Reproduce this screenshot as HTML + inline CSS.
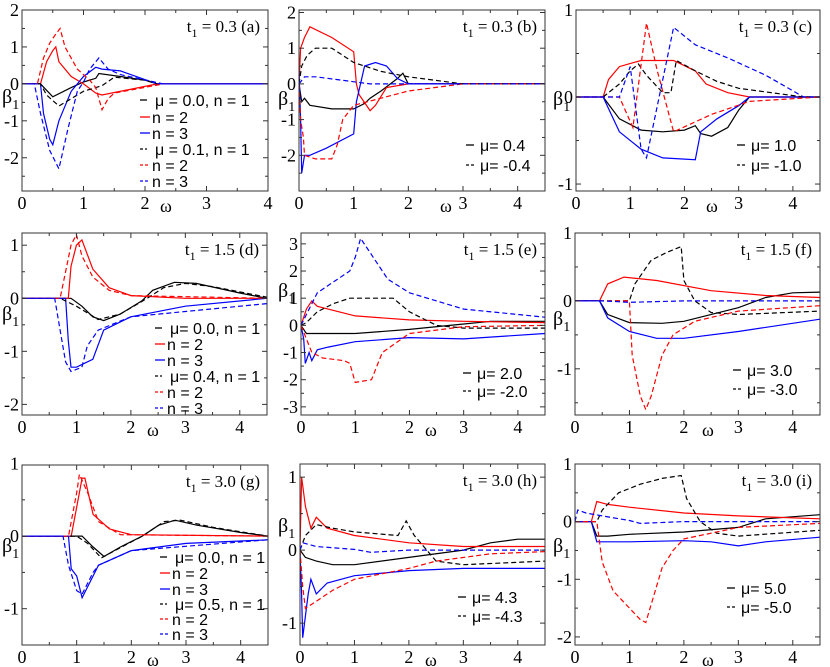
<!DOCTYPE html>
<html><head><meta charset="utf-8">
<style>
body{margin:0;background:#fff;}
svg{display:block;}
.tk{font-family:"Liberation Serif","DejaVu Serif",serif;font-size:18px;fill:#000;}
.lg{font-family:"Liberation Sans","DejaVu Sans",sans-serif;font-size:16px;fill:#000;}
</style></head>
<body>
<svg id="fig" width="830" height="667" xmlns="http://www.w3.org/2000/svg"></svg>
<script>
// ---------- data: each series is [omega, beta1] pairs ----------
const a_k = [[0,0],[0.3,0],[0.5,-0.35],[0.8,-0.1],[1.0,0.05],[1.2,0.15],[1.25,0.28],[1.6,0.2],[2.0,0.1],[2.2,0],[4,0]];
const a_r = [[0,0],[0.3,0],[0.4,0.6],[0.5,0.9],[0.55,1.0],[0.6,0.6],[0.8,0.2],[1.0,0],[1.2,-0.25],[1.3,-0.3],[2.2,0],[4,0]];
const a_b = [[0,0],[0.3,0],[0.35,-0.8],[0.45,-1.5],[0.5,-1.65],[0.6,-1.0],[0.8,-0.2],[1.0,0.2],[1.2,0.45],[1.3,0.4],[1.6,0.35],[2.2,0],[4,0]];
const a_kd = [[0,0],[0.3,0],[0.4,-0.3],[0.6,-0.6],[0.8,-0.4],[1.0,-0.2],[1.3,-0.05],[1.5,0.18],[2.0,0.1],[2.2,0]];
const a_rd = [[0,0],[0.25,0],[0.35,0.7],[0.45,1.1],[0.55,1.35],[0.62,1.5],[0.7,1.0],[0.9,0.4],[1.1,0.1],[1.2,-0.1],[1.3,-0.7],[1.4,-0.4],[1.5,-0.25],[2.3,0]];
const a_bd = [[0,0],[0.2,0],[0.3,-0.8],[0.45,-1.8],[0.6,-2.3],[0.75,-1.2],[0.9,-0.2],[1.0,0.05],[1.1,0.4],[1.25,0.7],[1.4,0.4],[1.6,0.25],[2.3,0]];

const b_r = [[0,0],[0.03,1.0],[0.1,1.3],[0.2,1.6],[0.6,1.3],[1.0,0.9],[1.05,0],[1.1,-0.3],[1.3,-0.75],[1.4,-0.6],[1.6,-0.1],[2.0,0],[4.5,0]];
const b_k = [[0,0],[0.05,-0.5],[0.1,-0.4],[0.2,-0.6],[0.6,-0.7],[1.0,-0.7],[1.2,-0.55],[1.3,-0.4],[1.5,-0.2],[1.8,0.15],[1.9,0.3],[2.0,0],[4.5,0]];
const b_b = [[0,0.4],[0.03,-1.0],[0.05,-2.5],[0.1,-2.0],[0.2,-2.0],[0.5,-1.8],[1.0,-1.4],[1.05,-0.5],[1.2,0.5],[1.4,0.6],[1.6,0.5],[1.8,0.15],[2.0,0],[4.5,0]];
const b_kd = [[0,0],[0.05,0.5],[0.15,0.8],[0.3,1.0],[0.6,1.0],[1.0,0.6],[1.5,0.35],[2.0,0.2],[3.0,0],[4.5,0]];
const b_rd = [[0,0],[0.03,-1.0],[0.08,-1.5],[0.1,-2.0],[0.3,-2.1],[0.6,-2.1],[0.7,-1.7],[0.8,-1.0],[1.0,-0.6],[1.5,-0.4],[2.0,-0.2],[3.0,0],[4.5,0]];
const b_bd = [[0,0],[0.1,0.2],[0.3,0.2],[0.8,0.1],[1.3,0],[2.0,0],[4.5,0]];

const c_r = [[0,0],[0.5,0],[0.6,0.2],[0.8,0.35],[1.2,0.42],[1.8,0.42],[2.2,0.3],[2.4,0.15],[2.8,0.05],[3.2,0],[4.5,0]];
const c_k = [[0,0],[0.5,0],[0.8,-0.25],[1.2,-0.38],[1.6,-0.4],[2.0,-0.38],[2.2,-0.33],[2.3,-0.42],[2.5,-0.45],[2.8,-0.35],[3.0,-0.15],[3.2,0],[4.5,0]];
const c_b = [[0,0],[0.5,0],[0.8,-0.4],[1.2,-0.6],[1.6,-0.7],[2.2,-0.72],[2.3,-0.4],[2.6,-0.25],[3.0,-0.1],[3.2,0],[4.5,0]];
const c_kd = [[0.5,0],[0.8,0.15],[1.0,0.3],[1.15,0.38],[1.3,0.25],[1.6,0.05],[1.75,0.05],[1.85,0.42],[2.2,0.3],[2.6,0.18],[3.0,0.1],[4.2,0],[4.5,0]];
const c_rd = [[0,0],[0.8,0],[1.05,-0.35],[1.3,0.85],[1.5,0.3],[1.8,-0.4],[2.5,-0.2],[3.2,-0.05],[4.5,0]];
const c_bd = [[0,0],[0.8,0],[1.0,0.35],[1.2,-0.6],[1.3,-0.7],[1.8,0.8],[2.2,0.6],[2.8,0.45],[3.5,0.25],[4.2,0],[4.5,0]];

const d_k = [[0,0],[0.9,0],[1.1,-0.15],[1.3,-0.35],[1.5,-0.42],[1.8,-0.3],[2.2,-0.05],[2.4,0.15],[2.8,0.3],[3.2,0.28],[4.0,0.1],[4.5,0]];
const d_r = [[0,0],[0.85,0],[0.9,0.6],[1.0,1.0],[1.1,1.1],[1.3,0.55],[1.6,0.2],[2.0,0.05],[3.0,0],[4.5,0]];
const d_b = [[0,0],[0.8,0],[0.85,-0.8],[0.9,-1.3],[1.0,-1.3],[1.3,-1.15],[1.5,-0.6],[2.0,-0.35],[3.0,-0.15],[4.5,0]];
const d_kd = [[0,0],[0.7,0],[1.0,-0.15],[1.4,-0.4],[1.8,-0.3],[2.3,0],[2.6,0.2],[3.0,0.28],[3.5,0.22],[4.5,0.02]];
const d_rd = [[0,0],[0.7,0],[0.8,0.5],[0.9,1.0],[1.0,1.2],[1.1,0.8],[1.3,0.4],[1.6,0.15],[2.0,0.05],[4.5,0]];
const d_bd = [[0,0],[0.6,0],[0.7,-0.6],[0.8,-1.2],[0.9,-1.38],[1.1,-1.3],[1.2,-0.9],[1.4,-0.6],[2.0,-0.35],[3.0,-0.25],[4.5,-0.1]];

const e_r = [[0,0],[0.1,0.6],[0.2,0.9],[0.3,0.7],[0.5,0.6],[1.0,0.35],[2.0,0.2],[3.0,0.15],[4.5,0.1]];
const e_k = [[0,0],[0.1,-0.3],[0.3,-0.3],[1.0,-0.3],[2.0,-0.15],[3.0,0.05],[3.5,0.15],[4.5,0.15]];
const e_b = [[0,0],[0.05,-0.5],[0.08,-1.4],[0.15,-1.0],[0.2,-1.3],[0.3,-0.9],[0.5,-0.8],[1.0,-0.6],[2.0,-0.45],[3.0,-0.5],[4.5,-0.3]];
const e_kd = [[0,0],[0.1,0.1],[0.3,0.5],[0.6,0.8],[0.9,1.0],[1.7,1.0],[2.0,0.5],[2.5,0],[3.0,-0.1],[4.5,-0.1]];
const e_rd = [[0,0],[0.1,-0.5],[0.2,-1.0],[0.4,-1.2],[0.8,-1.3],[0.9,-1.4],[1.0,-2.1],[1.3,-2.0],[1.5,-1.0],[2.0,-0.3],[3.0,-0.05],[4.5,0]];
const e_bd = [[0,0],[0.1,0.4],[0.3,1.2],[0.6,1.6],[0.9,2.0],[1.0,2.5],[1.1,3.2],[1.3,2.6],[1.6,1.7],[2.0,1.2],[3.0,0.6],[4.5,0.3]];

const f_r = [[0,0],[0.45,0],[0.6,0.25],[0.9,0.35],[1.5,0.3],[2.5,0.15],[3.5,0.08],[4.5,0.05]];
const f_k = [[0,0],[0.45,0],[0.6,-0.2],[1.0,-0.32],[1.6,-0.33],[2.0,-0.3],[3.0,-0.1],[3.5,0.05],[4.0,0.12],[4.5,0.13]];
const f_b = [[0,0],[0.45,0],[0.6,-0.25],[1.0,-0.45],[1.5,-0.55],[2.0,-0.55],[3.0,-0.45],[4.5,-0.27]];
const f_kd = [[0,0],[1.0,0],[1.1,0.25],[1.4,0.6],[1.7,0.72],[1.95,0.8],[2.0,0.3],[2.2,0],[2.5,-0.17],[3.0,-0.2],[4.5,-0.15]];
const f_rd = [[0,0],[1.0,0],[1.05,-0.8],[1.2,-1.4],[1.3,-1.6],[1.4,-1.4],[1.6,-0.8],[1.8,-0.5],[2.2,-0.3],[3.0,-0.15],[4.5,-0.07]];
const f_bd = [[0,0],[0.5,0],[1.0,-0.02],[2.0,0],[4.5,0]];

const g_k = [[0,0],[1.1,0],[1.3,-0.15],[1.5,-0.28],[1.8,-0.15],[2.2,0],[2.5,0.15],[2.8,0.22],[3.2,0.15],[4.0,0.05],[4.5,0]];
const g_r = [[0,0],[0.9,0],[1.0,0.4],[1.1,0.8],[1.15,0.8],[1.3,0.3],[1.6,0.1],[2.0,0.02],[4.5,0]];
const g_b = [[0,0],[0.85,0],[0.9,-0.45],[1.0,-0.55],[1.1,-0.85],[1.2,-0.7],[1.4,-0.4],[2.0,-0.2],[3.0,-0.1],[4.5,-0.05]];
const g_kd = [[0,0],[1.0,0],[1.2,-0.1],[1.45,-0.3],[1.7,-0.2],[2.2,0],[2.6,0.2],[2.9,0.22],[3.5,0.12],[4.5,0]];
const g_rd = [[0,0],[0.85,0],[1.0,0.6],[1.05,0.85],[1.2,0.6],[1.4,0.2],[1.8,0.02],[4.5,0]];
const g_bd = [[0,0],[0.75,0],[0.85,-0.4],[1.0,-0.75],[1.1,-0.8],[1.3,-0.5],[1.4,-0.4],[2.0,-0.2],[4.5,-0.05]];

const h_r = [[0,0],[0.03,1.0],[0.1,0.6],[0.2,0.3],[0.3,0.45],[0.5,0.3],[1.0,0.2],[2.0,0.1],[3.0,0.05],[4.5,0.05]];
const h_k = [[0,0],[0.1,-0.1],[0.3,-0.15],[0.6,-0.2],[1.0,-0.2],[2.0,-0.1],[3.0,0],[3.5,0.1],[4.0,0.15],[4.5,0.15]];
const h_b = [[0,0],[0.03,-0.6],[0.05,-1.2],[0.15,-0.6],[0.2,-0.4],[0.3,-0.6],[0.5,-0.45],[1.0,-0.35],[2.0,-0.28],[3.0,-0.25],[4.5,-0.25]];
const h_kd = [[0,0],[0.1,0.2],[0.3,0.35],[0.6,0.3],[1.0,0.25],[1.8,0.2],[1.95,0.4],[2.1,0.2],[2.5,-0.15],[3.0,-0.2],[4.5,-0.15]];
const h_rd = [[0,0],[0.05,-0.5],[0.1,-0.8],[0.3,-0.7],[0.6,-0.55],[1.0,-0.4],[2.0,-0.25],[2.5,-0.15],[3.5,-0.05],[4.5,-0.02]];
const h_bd = [[0,0],[0.05,0.1],[0.3,0.05],[1.0,0.01],[1.3,-0.03],[2.0,0],[4.5,0]];

const i_r = [[0,0],[0.3,0],[0.4,0.35],[0.6,0.3],[1.0,0.25],[2.0,0.15],[3.0,0.1],[4.5,0.05]];
const i_k = [[0,0],[0.3,0],[0.4,-0.25],[0.6,-0.25],[1.0,-0.22],[2.0,-0.18],[3.0,-0.1],[3.5,0.05],[4.5,0.12]];
const i_b = [[0,0],[0.3,0],[0.4,-0.35],[1.0,-0.35],[2.0,-0.33],[2.5,-0.35],[3.0,-0.42],[3.5,-0.35],[4.5,-0.27]];
const i_kd = [[0,0],[0.4,0],[0.5,0.2],[0.8,0.5],[1.2,0.65],[1.6,0.75],[1.95,0.8],[2.05,0.4],[2.3,0],[2.6,-0.2],[3.0,-0.25],[4.5,-0.15]];
const i_rd = [[0,0],[0.4,0],[0.5,-0.7],[0.7,-1.2],[1.0,-1.5],[1.2,-1.7],[1.3,-1.75],[1.6,-0.8],[1.8,-0.5],[2.0,-0.3],[2.5,-0.2],[3.0,-0.1],[4.5,-0.03]];
const i_bd = [[0,0],[0.05,0.2],[0.2,0.15],[0.5,0.1],[1.0,0.02],[1.2,-0.03],[2.0,0],[4.5,0]];

const xTicksA = ["0","1","2","3","4"];
const xTicksB = ["0","1","2","3","4"];

// ---------- layout ----------
const NS="http://www.w3.org/2000/svg";
const SERIF='"Liberation Serif","DejaVu Serif",serif';
const SANS='"Liberation Sans","DejaVu Sans",sans-serif';
const svg=document.getElementById('fig');
function mk(tag,attrs,parent){const e=document.createElementNS(NS,tag);for(const k in attrs)e.setAttribute(k,attrs[k]);(parent||svg).appendChild(e);return e;}

const panels=[
 {id:'a',L:22,R:268,T:10,B:191,x1:4,y0:-2.9,y1:2.0,yt:[2,1,0,-1,-2],title:'0.3',tag:'(a)',series:[a_k,a_r,a_b,a_kd,a_rd,a_bd],leg6:{x:140,ys:[100,117,133,149,165,181],mu:['0.0','0.1'],sp:' '},beta:[2,103],om:160},
 {id:'b',L:299,R:545,T:10,B:191,x1:4.5,y0:-3.0,y1:2.07,yt:[2,1,0,-1,-2],title:'0.3',tag:'(b)',series:[b_k,b_r,b_b,b_kd,b_rd,b_bd],leg2:{x:466,ys:[145,165],mu:['0.4','-0.4']},beta:[278,105],om:440},
 {id:'c',L:576,R:820,T:10,B:191,x1:4.5,y0:-1.08,y1:1.0,yt:[1,0,-1],title:'0.3',tag:'(c)',series:[c_k,c_r,c_b,c_kd,c_rd,c_bd],leg2:{x:737,ys:[145,165],mu:['1.0','-1.0']},beta:[553,105],om:706},
 {id:'d',L:22,R:267,T:233,B:415,x1:4.5,y0:-2.2,y1:1.23,yt:[1,0,-1,-2],title:'1.5',tag:'(d)',series:[d_k,d_r,d_b,d_kd,d_rd,d_bd],leg6:{x:155,ys:[328,344,360,376,392,408],mu:['0.0','0.4'],sp:''},beta:[2,320],om:147},
 {id:'e',L:301,R:545,T:233,B:415,x1:4.5,y0:-3.3,y1:3.4,yt:[3,2,1,0,-1,-2,-3],title:'1.5',tag:'(e)',series:[e_k,e_r,e_b,e_kd,e_rd,e_bd],leg2:{x:463,ys:[373,391],mu:['2.0','-2.0']},beta:[278,297],om:425},
 {id:'f',L:575,R:820,T:233,B:415,x1:4.5,y0:-1.68,y1:1.0,yt:[1,0,-1],title:'1.5',tag:'(f)',series:[f_k,f_r,f_b,f_kd,f_rd,f_bd],leg2:{x:733,ys:[370,389],mu:['3.0','-3.0']},beta:[553,325],om:702},
 {id:'g',L:22,R:268,T:465,B:645,x1:4.5,y0:-1.5,y1:0.98,yt:[1,0,-1],title:'3.0',tag:'(g)',series:[g_k,g_r,g_b,g_kd,g_rd,g_bd],leg6:{x:160,ys:[557,573,589,604,619,634],mu:['0.0','0.5'],sp:''},beta:[2,552],om:147},
 {id:'h',L:300,R:545,T:464,B:645,x1:4.5,y0:-1.3,y1:1.18,yt:[1,0,-1],title:'3.0',tag:'(h)',series:[h_k,h_r,h_b,h_kd,h_rd,h_bd],leg2:{x:458,ys:[597,616],mu:['4.3','-4.3']},beta:[278,532],om:425},
 {id:'i',L:575,R:820,T:464,B:645,x1:4.5,y0:-2.14,y1:1.0,yt:[1,0,-1,-2],title:'3.0',tag:'(i)',series:[i_k,i_r,i_b,i_kd,i_rd,i_bd],leg2:{x:727,ys:[588,607],mu:['5.0','-5.0']},beta:[553,552],om:702}
];
const colors=['#000','#f00','#00f','#000','#f00','#00f'];
const dashes=[null,null,null,'5,3','5,3','5,3'];
const sNames=['mu-pos-n1','mu-pos-n2','mu-pos-n3','mu-neg-n1','mu-neg-n2','mu-neg-n3'];

panels.forEach(p=>{
  const g=mk('g',{});
  
  
  const X=v=>p.L+(v/p.x1)*(p.R-p.L);
  const Y=v=>p.B-(v-p.y0)/(p.y1-p.y0)*(p.B-p.T);
  const defs=mk('clipPath',{id:'cp'+p.id},g);
  mk('rect',{x:p.L,y:p.T,width:p.R-p.L,height:p.B-p.T},defs);
  const sg=mk('g',{'clip-path':'url(#cp'+p.id+')'},g);
  p.series.forEach((s,k)=>{
    const d=s.map((pt,j)=>(j?'L':'M')+X(pt[0]).toFixed(1)+' '+Y(pt[1]).toFixed(1)).join(' ');
    const path=mk('path',{d:d,fill:'none',stroke:colors[k],'stroke-width':1.2},sg);
    if(dashes[k])path.setAttribute('stroke-dasharray',dashes[k]);
    
    
  });
  const fr=mk('rect',{x:p.L,y:p.T,width:p.R-p.L,height:p.B-p.T,fill:'none',stroke:'#333','stroke-width':1},g);
  
  
  const xt=p.x1===4?xTicksA:xTicksB;
  for(let v=0;v<=p.x1+1e-9;v+=0.5){
    const major=Math.abs(v-Math.round(v))<1e-9, len=major?5:3, x=X(v);
    mk('line',{x1:x,y1:p.B,x2:x,y2:p.B-len,stroke:'#333'},g);
    mk('line',{x1:x,y1:p.T,x2:x,y2:p.T+len,stroke:'#333'},g);
  }
  xt.forEach(lbl=>{
    const t=mk('text',{x:X(+lbl),y:p.B+18,'text-anchor':'middle','font-family':SERIF,'font-size':'18'},g);t.textContent=lbl;
    
    
  });
  for(let v=Math.ceil(p.y0*2)/2;v<=p.y1+1e-9;v+=0.5){
    const major=Math.abs(v-Math.round(v))<1e-9, len=major?5:3, y=Y(v);
    mk('line',{x1:p.L,y1:y,x2:p.L+len,y2:y,stroke:'#333'},g);
    mk('line',{x1:p.R,y1:y,x2:p.R-len,y2:y,stroke:'#333'},g);
  }
  p.yt.forEach(v=>{
    const t=mk('text',{x:p.L-3,y:Y(v)+6,'text-anchor':'end','font-family':SERIF,'font-size':'18'},g);t.textContent=String(v);
    
    
  });
  const bt=mk('text',{x:p.beta[0],y:p.beta[1],'font-family':SERIF,'font-size':'20'},g);
  bt.innerHTML='β<tspan dy="6" font-size="14">1</tspan>';
  
  
  const ot=mk('text',{x:p.om,y:p.B+21,'font-family':SERIF,'font-size':'18'},g);ot.textContent='ω';
  
  
  const tt=mk('text',{x:p.R-8,y:p.T+22,'text-anchor':'end','font-family':SERIF,'font-size':'17'},g);
  tt.innerHTML='t<tspan dy="5" font-size="12">1</tspan><tspan dy="-5"> = '+p.title+'  '+p.tag+'</tspan>';
  
  
  const lg=mk('g',{},g);
  
  
  if(p.leg6){
    const labels=['μ'+p.leg6.sp+'= '+p.leg6.mu[0]+', n = 1','n = 2','n = 3','μ'+p.leg6.sp+'= '+p.leg6.mu[1]+', n = 1','n = 2','n = 3'];
    labels.forEach((lb,k)=>{
      const y=p.leg6.ys[k];
      const ln=mk('line',{x1:p.leg6.x,y1:y,x2:p.leg6.x+(k%3===0?7:10),y2:y,stroke:colors[k],'stroke-width':1.3},lg);
      if(dashes[k])ln.setAttribute('stroke-dasharray','3,2');
      const t=mk('text',{x:p.leg6.x+(k%3===0?15:12),y:y+6,'font-family':SANS,'font-size':'16'},lg);t.textContent=lb;
      
      
    });
  }
  if(p.leg2){
    p.leg2.ys.forEach((y,k)=>{
      const ln=mk('line',{x1:p.leg2.x,y1:y,x2:p.leg2.x+8,y2:y,stroke:'#000','stroke-width':1.3},lg);
      if(k)ln.setAttribute('stroke-dasharray','3,2');
      const t=mk('text',{x:p.leg2.x+14,y:y+6,'font-family':SANS,'font-size':'16'},lg);t.textContent='μ= '+p.leg2.mu[k];
      
      
    });
  }
});
</script>
</body></html>
